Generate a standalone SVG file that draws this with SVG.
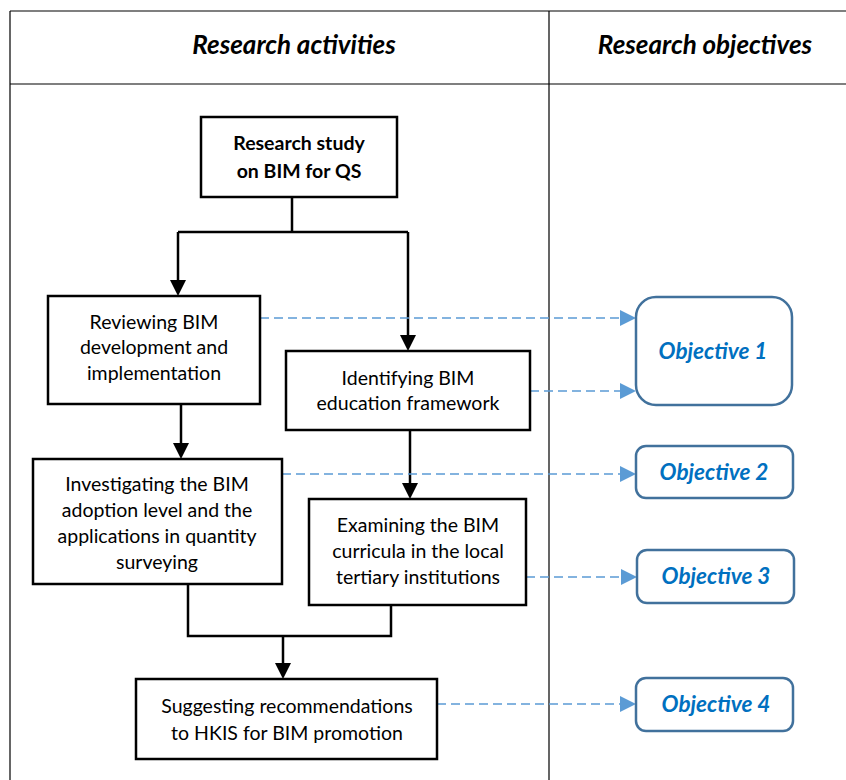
<svg xmlns="http://www.w3.org/2000/svg" width="846" height="780" viewBox="0 0 846 780">
<defs>
<style>
.t{font-family:Lato,"Open Sans","Liberation Sans",sans-serif;font-size:19.5px;fill:#000;text-anchor:middle}
.b{font-weight:bold;font-size:19.5px}
.h{font-family:Lato,"Open Sans","Liberation Sans",sans-serif;font-size:26px;font-weight:bold;font-style:italic;fill:#000;text-anchor:middle}
.o{font-family:Lato,"Open Sans","Liberation Sans",sans-serif;font-size:22.5px;font-weight:bold;font-style:italic;fill:#0070C0;text-anchor:middle}
.box{fill:#fff;stroke:#000;stroke-width:2.5}
.obj{fill:#fff;stroke:#41719C;stroke-width:2.5}
.ln{fill:none;stroke:#000;stroke-width:2.5}
.da{fill:none;stroke:#5B9BD5;stroke-width:1.3;stroke-dasharray:9,5}
.ah{fill:#000}
.bh{fill:#5B9BD5}
.grid{fill:none;stroke:#000;stroke-width:1.2}
</style>
</defs>
<g id="table">
<path class="grid" d="M10,11H846M10,11V780M549,11V780M10,84H846"/>
<text class="h" x="294" y="54">Research activities</text>
<text class="h" x="705" y="54">Research objectives</text>
</g>
<g id="connectors">
<path class="ln" d="M292,197V232M178,232H408"/>
<path class="ln" d="M178,232V282"/>
<path class="ah" d="M170,280L178,296L186,280z"/>
<path class="ln" d="M408,232V337"/>
<path class="ah" d="M400,335L408,351L416,335z"/>
<path class="ln" d="M181,404V445"/>
<path class="ah" d="M173,443L181,459L189,443z"/>
<path class="ln" d="M410,430V485"/>
<path class="ah" d="M402,483L410,499L418,483z"/>
<path class="ln" d="M188,584V636H391V605M283,636V665"/>
<path class="ah" d="M275,663L283,679L291,663z"/>
<path class="da" d="M260,318H620"/>
<path class="da" d="M530,391H620"/>
<path class="da" d="M282,474H620"/>
<path class="da" d="M526,577H621"/>
<path class="da" d="M437,704H620"/>
<path class="bh" d="M620,310L636,318L620,326z"/>
<path class="bh" d="M620,383L636,391L620,399z"/>
<path class="bh" d="M620,466L636,474L620,482z"/>
<path class="bh" d="M621,569L637,577L621,585z"/>
<path class="bh" d="M620,696L636,704L620,712z"/>
</g>
<g id="n-study">
<rect class="box" x="201" y="117" width="196" height="80"/>
<text class="t b" x="299" y="150">Research study</text>
<text class="t b" x="299" y="178">on BIM for QS</text>
</g>
<g id="n-review">
<rect class="box" x="48" y="296" width="212" height="108"/>
<text class="t" x="154" y="329">Reviewing BIM</text>
<text class="t" x="154" y="354">development and</text>
<text class="t" x="154" y="380">implementation</text>
</g>
<g id="n-identify">
<rect class="box" x="286" y="351" width="244" height="79"/>
<text class="t" x="408" y="385">Identifying BIM</text>
<text class="t" x="408" y="410">education framework</text>
</g>
<g id="n-investigate">
<rect class="box" x="33" y="459" width="249" height="125"/>
<text class="t" x="157" y="491">Investigating the BIM</text>
<text class="t" x="157" y="517">adoption level and the</text>
<text class="t" x="157" y="543">applications in quantity</text>
<text class="t" x="157" y="569">surveying</text>
</g>
<g id="n-examine">
<rect class="box" x="309" y="499" width="217" height="106"/>
<text class="t" x="418" y="532">Examining the BIM</text>
<text class="t" x="418" y="558">curricula in the local</text>
<text class="t" x="418" y="584">tertiary institutions</text>
</g>
<g id="n-suggest">
<rect class="box" x="136" y="679" width="301" height="80"/>
<text class="t" x="287" y="713">Suggesting recommendations</text>
<text class="t" x="287" y="740">to HKIS for BIM promotion</text>
</g>
<g id="n-obj1">
<rect class="obj" x="636" y="297" width="156" height="108" rx="20"/>
<text class="o" x="713" y="359">Objective 1</text>
</g>
<g id="n-obj2">
<rect class="obj" x="636" y="446" width="157" height="52" rx="10"/>
<text class="o" x="714" y="480">Objective 2</text>
</g>
<g id="n-obj3">
<rect class="obj" x="637" y="550" width="157" height="53" rx="10"/>
<text class="o" x="716" y="584">Objective 3</text>
</g>
<g id="n-obj4">
<rect class="obj" x="636" y="678" width="157" height="53" rx="10"/>
<text class="o" x="716" y="712">Objective 4</text>
</g>
</svg>
